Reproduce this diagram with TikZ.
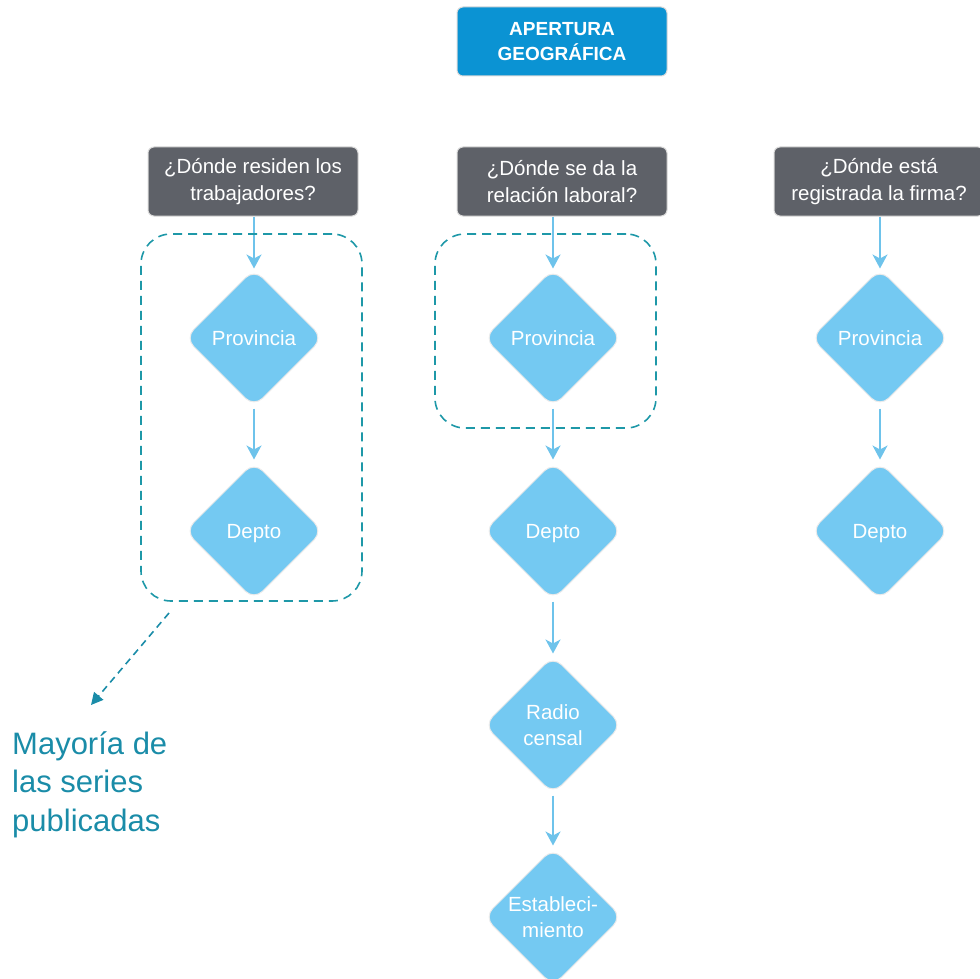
\documentclass[tikz,border=0pt]{standalone}
\usepackage{fontspec}
\setmainfont{Liberation Sans}
\usetikzlibrary{shapes.geometric,arrows.meta}
\definecolor{topblue}{HTML}{0B93D3}
\definecolor{graybox}{HTML}{5E6168}
\definecolor{diafill}{HTML}{74C9F2}
\definecolor{arrowblue}{HTML}{6EC3EB}
\definecolor{grpteal}{HTML}{1E98A8}
\definecolor{noteteal}{HTML}{1A8CA8}
\begin{document}
\begin{tikzpicture}[x=1pt,y=-1pt,
  hdr/.style={rectangle, rounded corners=6pt, fill=topblue, draw=black!15, line width=1pt,
    minimum width=210pt, minimum height=69pt, text=white, inner sep=0pt, align=center,
    font=\fontsize{19}{25}\selectfont\bfseries},
  qbox/.style={rectangle, rounded corners=6pt, fill=graybox, draw=black!15, line width=1pt,
    minimum width=210pt, minimum height=69pt, text=white, inner sep=0pt, align=center,
    font=\fontsize{20.5}{27}\selectfont},
  dia/.style={diamond, aspect=1, minimum width=138pt, minimum height=138pt, inner sep=0pt,
    rounded corners=12pt, fill=diafill, draw=black!8, line width=1pt, text=white,
    align=center, font=\fontsize{20.5}{26}\selectfont},
  dia1/.style={dia, text height=19pt, text depth=4pt},
  flow/.style={draw=arrowblue, line width=1.6pt, -{Stealth[length=14pt,width=15pt,inset=4pt]}},
  grp/.style={draw=grpteal, dash pattern=on 9pt off 6pt, line width=1.6pt, rounded corners=30pt,
    rectangle, inner sep=0pt},
  notearrow/.style={draw=noteteal, dash pattern=on 7pt off 5pt, line width=1.6pt,
    -{Triangle[length=12pt,width=12pt]}}
]
\useasboundingbox (0,0) rectangle (980,979);

\node[hdr] (top) at (562,41.5) {APERTURA\\GEOGRÁFICA};

\node[qbox] (q1) at (253,181.5) {¿Dónde residen los\\trabajadores?};
\node[qbox] (q2) at (562,181.5) {¿Dónde se da la\\relación laboral?};
\node[qbox] (q3) at (879,181.5) {¿Dónde está\\registrada la firma?};

\node[dia1] (p1) at (254,338) {Provincia};
\node[dia1] (d1) at (254,531) {Depto};

\node[dia1] (p2) at (553,338) {Provincia};
\node[dia1] (d2) at (553,531) {Depto};
\node[dia] (r2) at (553,725) {Radio\\censal};
\node[dia] (e2) at (553,917) {Estableci-\\miento};

\node[dia1] (p3) at (880,338) {Provincia};
\node[dia1] (d3) at (880,531) {Depto};

\draw[flow] (q1.south -| p1) -- (p1.north);
\draw[flow] (q2.south -| p2) -- (p2.north);
\draw[flow] (q3.south -| p3) -- (p3.north);
\draw[flow, shorten <=1pt, shorten >=2pt] (p1.south) -- (d1.north);
\draw[flow, shorten <=1pt, shorten >=2pt] (p2.south) -- (d2.north);
\draw[flow, shorten <=1pt, shorten >=2pt] (d2.south) -- (r2.north);
\draw[flow, shorten <=1pt, shorten >=2pt] (r2.south) -- (e2.north);
\draw[flow, shorten <=1pt, shorten >=2pt] (p3.south) -- (d3.north);

\node[grp, minimum width=221pt, minimum height=367pt] (g1) at (251.5,417.5) {};
\node[grp, minimum width=221pt, minimum height=194pt] (g2) at (545.5,331) {};

\coordinate (ns) at (169,613);
\coordinate (ne) at (91,705);
\draw[notearrow] (ns) -- (ne);

\node[anchor=north west, inner sep=0pt, align=left, text=noteteal,
  font=\fontsize{31}{38.5}\selectfont] (note) at (12,731) {Mayoría de\\las series\\publicadas};
\end{tikzpicture}
\end{document}
